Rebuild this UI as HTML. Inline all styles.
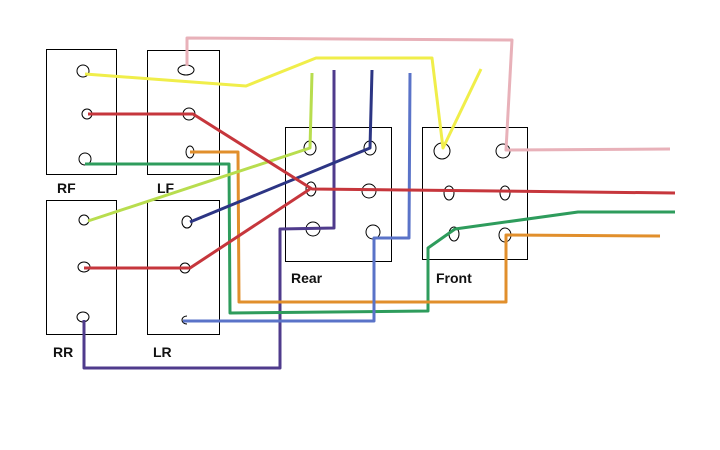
<!DOCTYPE html>
<html><head><meta charset="utf-8"><style>
html,body{margin:0;padding:0;background:#fff;width:720px;height:450px;overflow:hidden}
svg{display:block}
text{font-family:"Liberation Sans",sans-serif;font-weight:bold;font-size:14px;fill:#111}
</style></head><body>
<svg width="720" height="450" viewBox="0 0 720 450" xmlns="http://www.w3.org/2000/svg">
<g fill="none" stroke="#000" stroke-width="1">
<rect x="46.5" y="49.5" width="70" height="125"/>
<rect x="147.5" y="50.5" width="72" height="124"/>
<rect x="46.5" y="200.5" width="70" height="134"/>
<rect x="147.5" y="200.5" width="72" height="134"/>
<rect x="285.5" y="127.5" width="106" height="134"/>
<rect x="422.5" y="127.5" width="105" height="132"/>
<ellipse cx="83" cy="71" rx="6" ry="6"/>
<ellipse cx="87" cy="114" rx="5" ry="5"/>
<ellipse cx="85" cy="159" rx="6" ry="6"/>
<ellipse cx="186" cy="70" rx="8" ry="5"/>
<ellipse cx="189" cy="114" rx="6" ry="6"/>
<ellipse cx="190" cy="152" rx="4" ry="6"/>
<ellipse cx="84" cy="220" rx="5" ry="5"/>
<ellipse cx="84" cy="267" rx="6" ry="5"/>
<ellipse cx="83" cy="317" rx="6" ry="5"/>
<ellipse cx="187" cy="222" rx="5" ry="6"/>
<ellipse cx="185" cy="268" rx="5" ry="5"/>
<path d="M187 316 a5 4 0 1 0 0 8"/>
<ellipse cx="310" cy="148" rx="6" ry="7"/>
<ellipse cx="370" cy="148" rx="6" ry="7"/>
<ellipse cx="311" cy="189" rx="5" ry="7"/>
<ellipse cx="369" cy="191" rx="7" ry="7"/>
<ellipse cx="313" cy="229" rx="7" ry="7"/>
<ellipse cx="373" cy="232" rx="7" ry="7"/>
<ellipse cx="442" cy="151" rx="8" ry="8"/>
<ellipse cx="503" cy="151" rx="7" ry="7"/>
<ellipse cx="449" cy="193" rx="5" ry="7"/>
<ellipse cx="505" cy="193" rx="5" ry="7"/>
<ellipse cx="454" cy="234" rx="5" ry="7"/>
<ellipse cx="505" cy="235" rx="6" ry="7"/>
</g>
<g fill="none" stroke-width="3" stroke-linejoin="round">
<polyline stroke="#e8b1b9" points="187,66 187,38 512,40 506,150 670,149"/>
<polyline stroke="#f0ee4a" points="85,74 246,86 316,58 432,58 443,148 481,69"/>
<polyline stroke="#4f3b8c" points="84,320 84,368 280,368 280,229 334,228 334,70"/>
<polyline stroke="#2e9c5c" points="85,164 229,164 230,313 428,311 428,248 455,229 578,212 675,212"/>
<polyline stroke="#e18f2c" points="190,152 238,152 239,302 506,302 506,235 660,236"/>
<polyline stroke="#5a73c8" points="183,321 374,321 374,238 409,238 410,73"/>
<polyline stroke="#b8dd4e" points="88,221 310,148 312,73"/>
<polyline stroke="#2c3584" points="190,222 370,148 372,70"/>
<polyline stroke="#c6363c" points="88,114 193,114 312,189 675,193"/>
<polyline stroke="#c6363c" points="84,268 190,268 310,189"/>
</g>
<text x="57" y="193">RF</text>
<text x="157" y="193">LF</text>
<text x="53" y="357">RR</text>
<text x="153" y="357">LR</text>
<text x="291" y="283">Rear</text>
<text x="436" y="283">Front</text>
</svg>
</body></html>
